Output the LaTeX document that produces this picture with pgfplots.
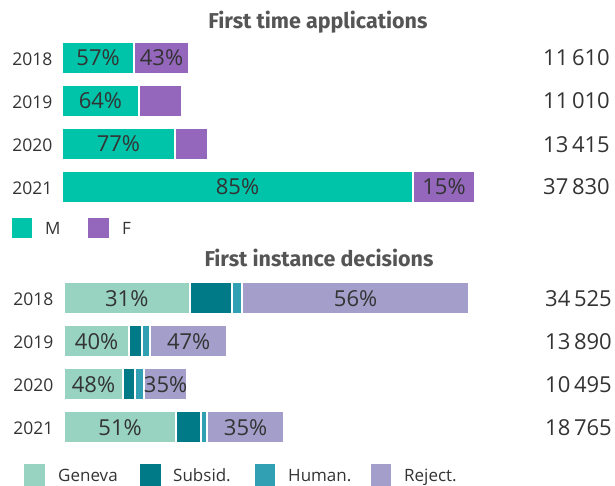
\documentclass[border=0pt]{standalone}
\usepackage{fontspec}
\setmainfont{Open Sans}
\newfontfamily\ttlfont{Fira Sans}
\usepackage{pgfplots}
\pgfplotsset{compat=1.18}
\definecolor{cM}{HTML}{00C4AA}
\definecolor{cF}{HTML}{9467BD}
\definecolor{cGen}{HTML}{97D3C0}
\definecolor{cSub}{HTML}{007A87}
\definecolor{cHum}{HTML}{30A0B2}
\definecolor{cRej}{HTML}{A49FCA}
\definecolor{txt}{HTML}{333333}
\definecolor{ttl}{HTML}{555555}
\newcommand{\pctf}{\fontsize{22}{24}\selectfont}
\newcommand{\yrf}{\fontsize{17.5}{19}\selectfont}
\newcommand{\totf}{\fontsize{22}{24}\selectfont}
\newcommand{\lgf}{\fontsize{17}{19}\selectfont}
\newcommand{\ttlf}{\ttlfont\bfseries\fontsize{21.5}{24}\selectfont}
\tikzset{pl/.style={font=\pctf, text=txt, anchor=base, yshift=-8pt, inner sep=0pt}}
\begin{document}
\begin{tikzpicture}[x=1pt,y=1pt]
\path[use as bounding box] (0,0) rectangle (615,-486);
% ---------------- top chart ----------------
\node[font=\ttlf, text=ttl, anchor=base] at (318,-28.5) {First time applications};
\begin{axis}[
  at={(62pt,-36.5pt)}, anchor=north west,
  scale only axis, width=413pt, height=172pt,
  xbar stacked, bar width=32.5pt,
  xmin=0, xmax=37830, ymin=-0.5, ymax=3.5, y dir=reverse,
  ytick={0,1,2,3}, yticklabels={2018,2019,2020,2021},
  xtick=\empty, axis line style={draw=none}, major tick length=0pt,
  yticklabel style={font=\yrf, text=txt, inner sep=0pt, anchor=east, xshift=-9.5pt, yshift=-1.5pt},
  clip=false,
]
\addplot[fill=cM, draw=white, line width=2pt] coordinates {(6618,0) (7046,1) (10330,2) (32156,3)};
\addplot[fill=cF, draw=white, line width=2pt] coordinates {(4992,0) (3964,1) (3085,2) (5674,3)};
\coordinate (a1) at (axis cs:3309,0);
\coordinate (a2) at (axis cs:9114,0);
\coordinate (a3) at (axis cs:3523,1);
\coordinate (a4) at (axis cs:5165,2);
\coordinate (a5) at (axis cs:16078,3);
\coordinate (a6) at (axis cs:34993,3);
\end{axis}
\node[pl] at (a1) {57\%};
\node[pl] at (a2) {43\%};
\node[pl] at (a3) {64\%};
\node[pl] at (a4) {77\%};
\node[pl] at (a5) {85\%};
\node[pl] at (a6) {15\%};
\foreach \v/\y in {11\,610/58, 11\,010/101, 13\,415/145, 37\,830/187}
  \node[font=\totf, text=txt, anchor=base east, inner sep=0pt] at (610,-\y-8) {\v};
% legend top
\fill[cM] (12,-218) rectangle (32,-238);
\node[font=\lgf, text=txt, anchor=base west, inner sep=0pt] at (45,-234) {M};
\fill[cF] (88,-218) rectangle (109,-238);
\node[font=\lgf, text=txt, anchor=base west, inner sep=0pt] at (122,-234) {F};
% ---------------- bottom chart ----------------
\node[font=\ttlf, text=ttl, anchor=base] at (319,-266.5) {First instance decisions};
\begin{axis}[
  at={(64pt,-276.5pt)}, anchor=north west,
  scale only axis, width=405pt, height=172pt,
  xbar stacked, bar width=32.5pt,
  xmin=0, xmax=34525, ymin=-0.5, ymax=3.5, y dir=reverse,
  ytick={0,1,2,3}, yticklabels={2018,2019,2020,2021},
  xtick=\empty, axis line style={draw=none}, major tick length=0pt,
  yticklabel style={font=\yrf, text=txt, inner sep=0pt, anchor=east, xshift=-10.5pt, yshift=-1.5pt},
  clip=false,
]
\addplot[fill=cGen, draw=white, line width=2pt] coordinates {(10703,0) (5556,1) (5038,2) (9570,3)};
\addplot[fill=cSub, draw=white, line width=2pt] coordinates {(3625,0) (1111,1) (1050,2) (2139,3)};
\addplot[fill=cHum, draw=white, line width=2pt] coordinates {(863,0) (695,1) (735,2) (488,3)};
\addplot[fill=cRej, draw=white, line width=2pt] coordinates {(19334,0) (6528,1) (3672,2) (6568,3)};
\coordinate (b1) at (axis cs:5351,0);
\coordinate (b2) at (axis cs:24858,0);
\coordinate (b3) at (axis cs:2778,1);
\coordinate (b4) at (axis cs:10626,1);
\coordinate (b5) at (axis cs:2519,2);
\coordinate (b6) at (axis cs:8659,2);
\coordinate (b7) at (axis cs:4785,3);
\coordinate (b8) at (axis cs:15481,3);
\end{axis}
\node[pl] at (b1) {31\%};
\node[pl] at (b2) {56\%};
\node[pl] at (b3) {40\%};
\node[pl] at (b4) {47\%};
\node[pl] at (b5) {48\%};
\node[pl] at (b6) {35\%};
\node[pl] at (b7) {51\%};
\node[pl] at (b8) {35\%};
\foreach \v/\y in {34\,525/298, 13\,890/341, 10\,495/384.5, 18\,765/427}
  \node[font=\totf, text=txt, anchor=base east, inner sep=0pt] at (612,-\y-8) {\v};
% legend bottom
\fill[cGen] (24,-464) rectangle (45,-486);
\node[font=\lgf, text=txt, anchor=base west, inner sep=0pt] at (58,-481) {Geneva};
\fill[cSub] (140,-464) rectangle (161,-486);
\node[font=\lgf, text=txt, anchor=base west, inner sep=0pt] at (173,-481) {Subsid.};
\fill[cHum] (255,-464) rectangle (275,-486);
\node[font=\lgf, text=txt, anchor=base west, inner sep=0pt] at (288,-481) {Human.};
\fill[cRej] (371,-464) rectangle (391,-486);
\node[font=\lgf, text=txt, anchor=base west, inner sep=0pt] at (404,-481) {Reject.};
\end{tikzpicture}
\end{document}
